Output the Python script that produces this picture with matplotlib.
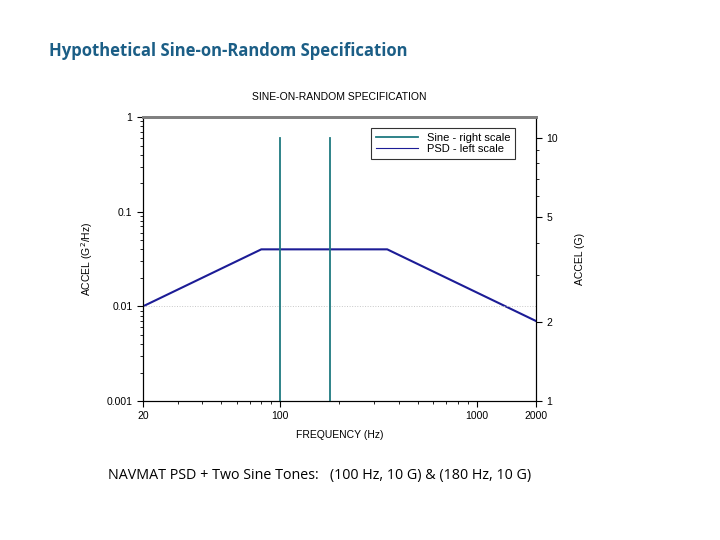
import numpy as np
import matplotlib.pyplot as plt
from matplotlib.ticker import FixedLocator, NullFormatter, LogLocator

# NAVMAT PSD breakpoints (Hz, G^2/Hz)
psd_freq = [20, 80, 350, 2000]
psd_level = [0.01, 0.04, 0.04, 0.007]

# sine tones (Hz, G)
sine_freq = [100, 180]
sine_amp = [10, 10]

x_ticks = [20, 100, 1000, 2000]
left_ticks = [0.001, 0.01, 0.1, 1]
left_labels = ['0.001', '0.01', '0.1', '1']
right_ticks = [1, 2, 5, 10]
right_labels = ['1', '2', '5', '10']

psd_color = '#1c1c96'
sine_color = '#1f7a80'

plt.rcParams['font.family'] = ['Liberation Sans', 'DejaVu Sans']

fig = plt.figure(figsize=(7.2, 5.4), dpi=100)
ax = fig.add_axes([0.1986, 0.2574, 0.5458, 0.5259])
ax2 = ax.twinx()

# PSD on left scale
ax.plot(psd_freq, psd_level, color=psd_color, lw=1.5, label='PSD - left scale')
ax.set_xscale('log')
ax.set_yscale('log')
ax.set_xlim(20, 2000)
ax.set_ylim(0.001, 1)
ax.axhline(0.01, color='#c8c8c8', lw=0.7, ls=':')

# sine tones on right scale
for f, a in zip(sine_freq, sine_amp):
    ln, = ax2.plot([f, f], [1, a], color=sine_color, lw=1.3)
ln.set_label('Sine - right scale')
ax2.set_yscale('log')
ax2.set_ylim(1, 12)

ax.xaxis.set_major_locator(FixedLocator(x_ticks))
ax.set_xticklabels([str(t) for t in x_ticks])
ax.xaxis.set_minor_locator(LogLocator(subs=np.arange(2, 10)))
ax.xaxis.set_minor_formatter(NullFormatter())

ax.yaxis.set_major_locator(FixedLocator(left_ticks))
ax.set_yticklabels(left_labels)
ax.yaxis.set_minor_locator(LogLocator(subs=np.arange(2, 10)))
ax.yaxis.set_minor_formatter(NullFormatter())

ax2.yaxis.set_major_locator(FixedLocator(right_ticks))
ax2.set_yticklabels(right_labels)
ax2.yaxis.set_minor_locator(FixedLocator([3, 4, 6, 7, 8, 9]))
ax2.yaxis.set_minor_formatter(NullFormatter())

for a in (ax, ax2):
    a.tick_params(which='major', length=4, width=0.8, labelsize=7.5, direction='out')
    a.tick_params(which='minor', length=2, width=0.6, direction='out')
    a.spines['top'].set_color('#808080')
    a.spines['top'].set_linewidth(2)

ax.set_xlabel('FREQUENCY (Hz)', fontsize=7.5, labelpad=6)
ax.set_ylabel('ACCEL (G$^2$/Hz)', fontsize=7.5, labelpad=8)
ax2.set_ylabel('ACCEL (G)', fontsize=7.5, labelpad=12)
ax.set_title('SINE-ON-RANDOM SPECIFICATION', fontsize=7.5, pad=12)

h1, l1 = ax2.get_legend_handles_labels()
h2, l2 = ax.get_legend_handles_labels()
leg = ax2.legend(h1 + h2, l1 + l2, loc='upper right', bbox_to_anchor=(0.96, 0.98),
                 fontsize=8, frameon=True, fancybox=False, edgecolor='black',
                 handlelength=3.8, borderpad=0.4, labelspacing=0.15)
leg.get_frame().set_linewidth(0.8)
leg.get_lines()[1].set_linewidth(0.8)

fig.text(0.068, 0.905, 'Hypothetical Sine-on-Random Specification', fontsize=12,
         fontweight='bold', color='#1b5e86', family='Open Sans', va='center')
fig.text(0.15, 0.12, 'NAVMAT PSD + Two Sine Tones:   (100 Hz, 10 G) & (180 Hz, 10 G)',
         fontsize=10.3, family='Open Sans', va='center')

fig.savefig('out.png', dpi=100)
